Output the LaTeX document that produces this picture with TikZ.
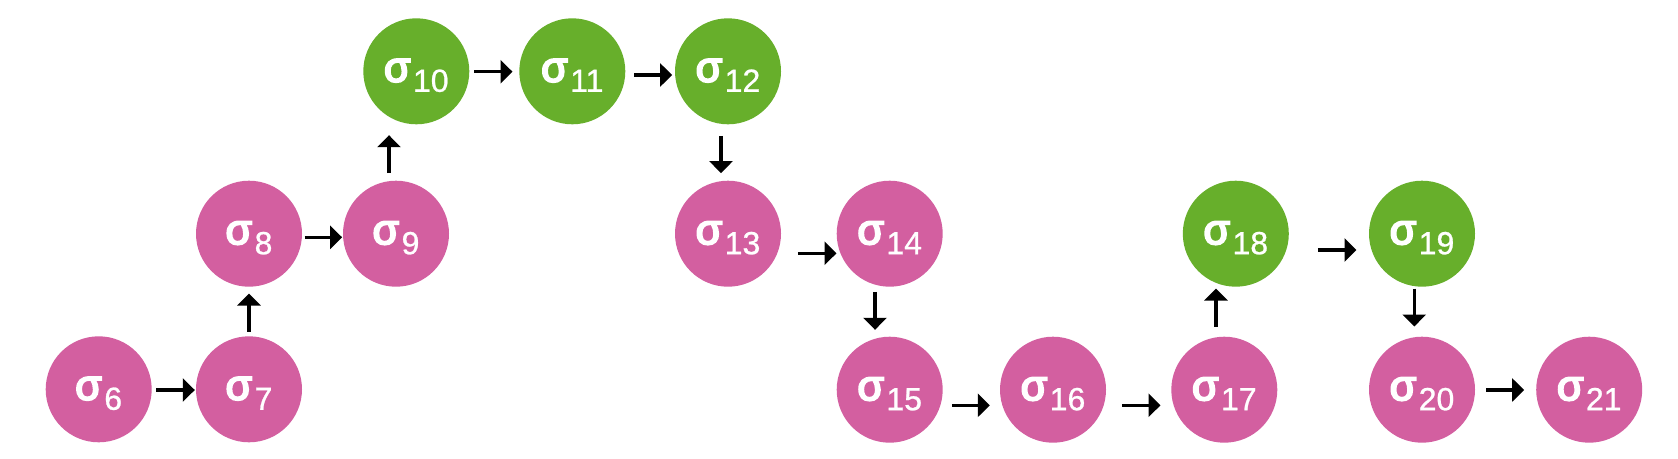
\documentclass[tikz,border=0pt]{standalone}
\usepackage{fontspec}
\setmainfont{Liberation Sans}
\newfontfamily\sigfont[FakeBold=4.5]{Liberation Sans}
\newfontfamily\subfont[FakeBold=0.8]{Liberation Sans}
\usetikzlibrary{arrows.meta}
\definecolor{pinkc}{RGB}{211,95,160}
\definecolor{greenc}{RGB}{103,175,43}
\newcommand{\sig}[1]{{\fontsize{43}{43}\sigfont σ}\kern2.5pt\raisebox{-10pt}{\fontsize{32}{32}\subfont #1}}
\begin{document}
\begin{tikzpicture}[x=1pt,y=-1pt,
  st/.style={circle,minimum size=106pt,inner sep=0pt,text=white,text height=30pt,text depth=9pt},
  pk/.style={st,fill=pinkc},
  gr/.style={st,fill=greenc},
  arr/.style={line width=3.3pt,-{Triangle[length=12pt,width=23pt]}}]
\useasboundingbox (0,0) rectangle (1678,458);
\node[pk] (c6) at (98.7,389.3) {\sig{6}};
\node[pk] (c7) at (249,389.3) {\sig{7}};
\node[pk] (c8) at (249,233.7) {\sig{8}};
\node[pk] (c9) at (396,233.7) {\sig{9}};
\node[gr] (c10) at (416.3,71.3) {\sig{10}};
\node[gr] (c11) at (572.3,71.3) {\sig{11}};
\node[gr] (c12) at (728,71.3) {\sig{12}};
\node[pk] (c13) at (728,233.7) {\sig{13}};
\node[pk] (c14) at (889.7,233.7) {\sig{14}};
\node[pk] (c15) at (889.7,389.7) {\sig{15}};
\node[pk] (c16) at (1053,389.7) {\sig{16}};
\node[pk] (c17) at (1224.3,389.7) {\sig{17}};
\node[gr] (c18) at (1235.8,233.7) {\sig{18}};
\node[gr] (c19) at (1422,233.7) {\sig{19}};
\node[pk] (c20) at (1422,389.7) {\sig{20}};
\node[pk] (c21) at (1589.2,389.7) {\sig{21}};
% connectors
\draw[arr,shorten <=4.3pt,shorten >=1pt] ([yshift=-0.7pt]c6.east) -- ([yshift=-0.7pt]c7.west);
\draw[arr,shorten <=4.6pt,shorten >=6.6pt] (c7.north) -- (c8.south);
\draw[arr,shorten <=2.3pt,shorten >=0.7pt] ([yshift=-3.6pt]c8.east) -- ([yshift=-3.6pt]c8.east -| c9.west);
\draw[arr,shorten <=7.4pt,shorten >=10.7pt] ([xshift=-7pt]c9.north) -- ([xshift=-7pt]c9.north |- c10.south);
\draw[arr,shorten <=4.7pt,shorten >=6.6pt] ([yshift=-0.4pt]c10.east) -- ([yshift=-0.4pt]c11.west);
\draw[arr,shorten <=8.7pt,shorten >=2.7pt] ([yshift=-3.7pt]c11.east) -- ([yshift=-3.7pt]c11.east -| c12.west);
\draw[arr,shorten <=11.4pt,shorten >=7.4pt] ([xshift=-7pt]c12.south) -- ([xshift=-7pt]c12.south |- c13.north);
\draw[arr,shorten <=16.7pt,shorten >=0pt] ([yshift=-19.6pt]c13.east) -- ([yshift=-19.6pt]c13.east -| c14.west);
\draw[arr,shorten <=5pt,shorten >=6.7pt] ([xshift=-14.7pt]c14.south) -- ([xshift=-14.7pt]c14.south |- c15.north);
\draw[arr,shorten <=9pt,shorten >=10pt] ([yshift=-15.6pt]c15.east) -- ([yshift=-15.6pt]c15.east -| c16.west);
\draw[arr,shorten <=15.7pt,shorten >=10.6pt] ([yshift=-15.6pt]c16.east) -- ([yshift=-15.6pt]c16.east -| c17.west);
\draw[arr,shorten <=10pt,shorten >=1.6pt] ([xshift=-8.3pt]c17.north) -- ([xshift=-8.3pt]c17.north |- c18.south);
\draw[arr,shorten <=28.9pt,shorten >=12.3pt] ([yshift=-16.3pt]c18.east) -- ([yshift=-16.3pt]c18.east -| c19.west);
\draw[arr,shorten <=1.6pt,shorten >=10pt] ([xshift=-7.7pt]c19.south) -- ([xshift=-7.7pt]c19.south |- c20.north);
\draw[arr,shorten <=11pt,shorten >=11.9pt] ([yshift=-0.3pt]c20.east) -- ([yshift=-0.3pt]c21.west);
\end{tikzpicture}
\end{document}
